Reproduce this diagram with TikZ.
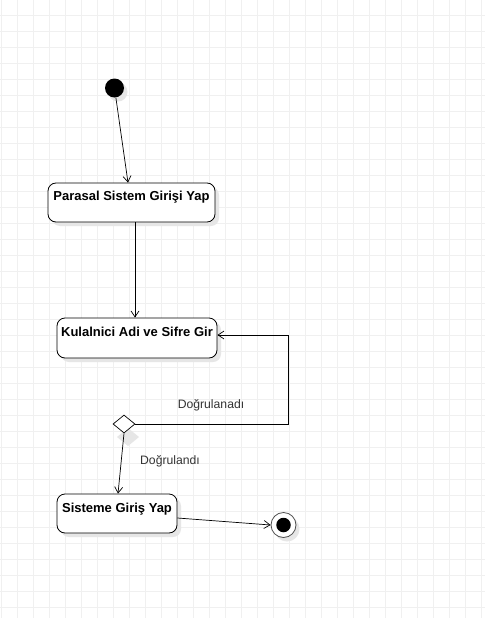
\documentclass[tikz,border=0pt]{standalone}
\usepackage{fontspec}
\setmainfont{Liberation Sans}
\usetikzlibrary{arrows.meta,shapes.geometric}
\definecolor{gridc}{HTML}{F0F0F0}
\definecolor{shadowc}{HTML}{E6E6E6}
\definecolor{labelc}{HTML}{333333}
\begin{document}
\begin{tikzpicture}[x=1pt,y=-1pt,
  actbox/.style={draw=black,line width=0.8pt,rounded corners=8pt,fill=white},
  actshadow/.style={fill=shadowc,rounded corners=8pt},
  acttext/.style={font=\bfseries\fontsize{13}{15}\selectfont,anchor=north,inner sep=0pt},
  flow/.style={draw=black,line width=0.7pt,-{Straight Barb[length=6pt,width=8pt]}},
  guard/.style={font=\fontsize{12.2}{14}\selectfont,text=labelc,inner sep=0pt}]
\useasboundingbox (0,0) rectangle (485,618);
\fill[white] (0,0) rectangle (485,618);
% grid
\foreach \gx in {1,17,...,481} \draw[gridc,line width=0.8pt] (\gx,0) -- (\gx,618);
\foreach \gy in {15,31,...,607} \draw[gridc,line width=0.8pt] (0,\gy) -- (485,\gy);
% shadows
\fill[actshadow] (52,187) rectangle (219,226);
\fill[actshadow] (61,322) rectangle (221,362);
\fill[actshadow] (61,498) rectangle (181,537);
\fill[shadowc] (118,92) circle (9.5);
\fill[shadowc] (287,529) circle (12.5);
\fill[shadowc] (128,428) -- (139,437) -- (128,446) -- (117,437) -- cycle;
% initial node
\node[circle,fill=black,minimum size=19pt,inner sep=0pt] (start) at (114.5,88) {};
% action boxes
\node[actbox,minimum width=167pt,minimum height=39pt,inner sep=0pt] (b1) at (131.5,202.5) {};
\node[acttext] (t1) at (131.5,191.3) {Parasal Sistem Girişi Yap};
\node[actbox,minimum width=160pt,minimum height=40pt,inner sep=0pt] (b2) at (137,338) {};
\node[acttext] (t2) at (137,326.6) {Kulalnici Adi ve Sifre Gir};
\node[actbox,minimum width=120pt,minimum height=39pt,inner sep=0pt] (b3) at (117,513.5) {};
\node[acttext] (t3) at (117,502.6) {Sisteme Giriş Yap};
% decision
\node[diamond,draw=black,line width=0.7pt,fill=white,minimum width=22pt,minimum height=18pt,inner sep=0pt] (dec) at (124,424) {};
% final node
\node[circle,draw=black!70,line width=0.8pt,fill=white,minimum size=25pt,inner sep=0pt] (end) at (283.5,525) {};
\node[circle,fill=black,minimum size=14.5pt,inner sep=0pt] (endin) at (283.5,525) {};
% connectors
\coordinate (c1) at (288,424);
\coordinate (c2) at (288,335);
\draw[flow] (start) -- (b1.north -| 128,0);
\draw[flow] (b1.south -| 135,0) -- (b2.north -| 135,0);
\draw[flow] (dec.east) -- (c1) -- (c2) -- (b2.east |- c2);
\draw[flow] (dec.south) -- (b3.north -| 118,0);
\draw[flow] (b3.east |- 0,518) -- (end.west);
% guards
\node[guard] (g1) at (211,405) {Doğrulanadı};
\node[guard] (g2) at (170,461) {Doğrulandı};
\end{tikzpicture}
\end{document}
